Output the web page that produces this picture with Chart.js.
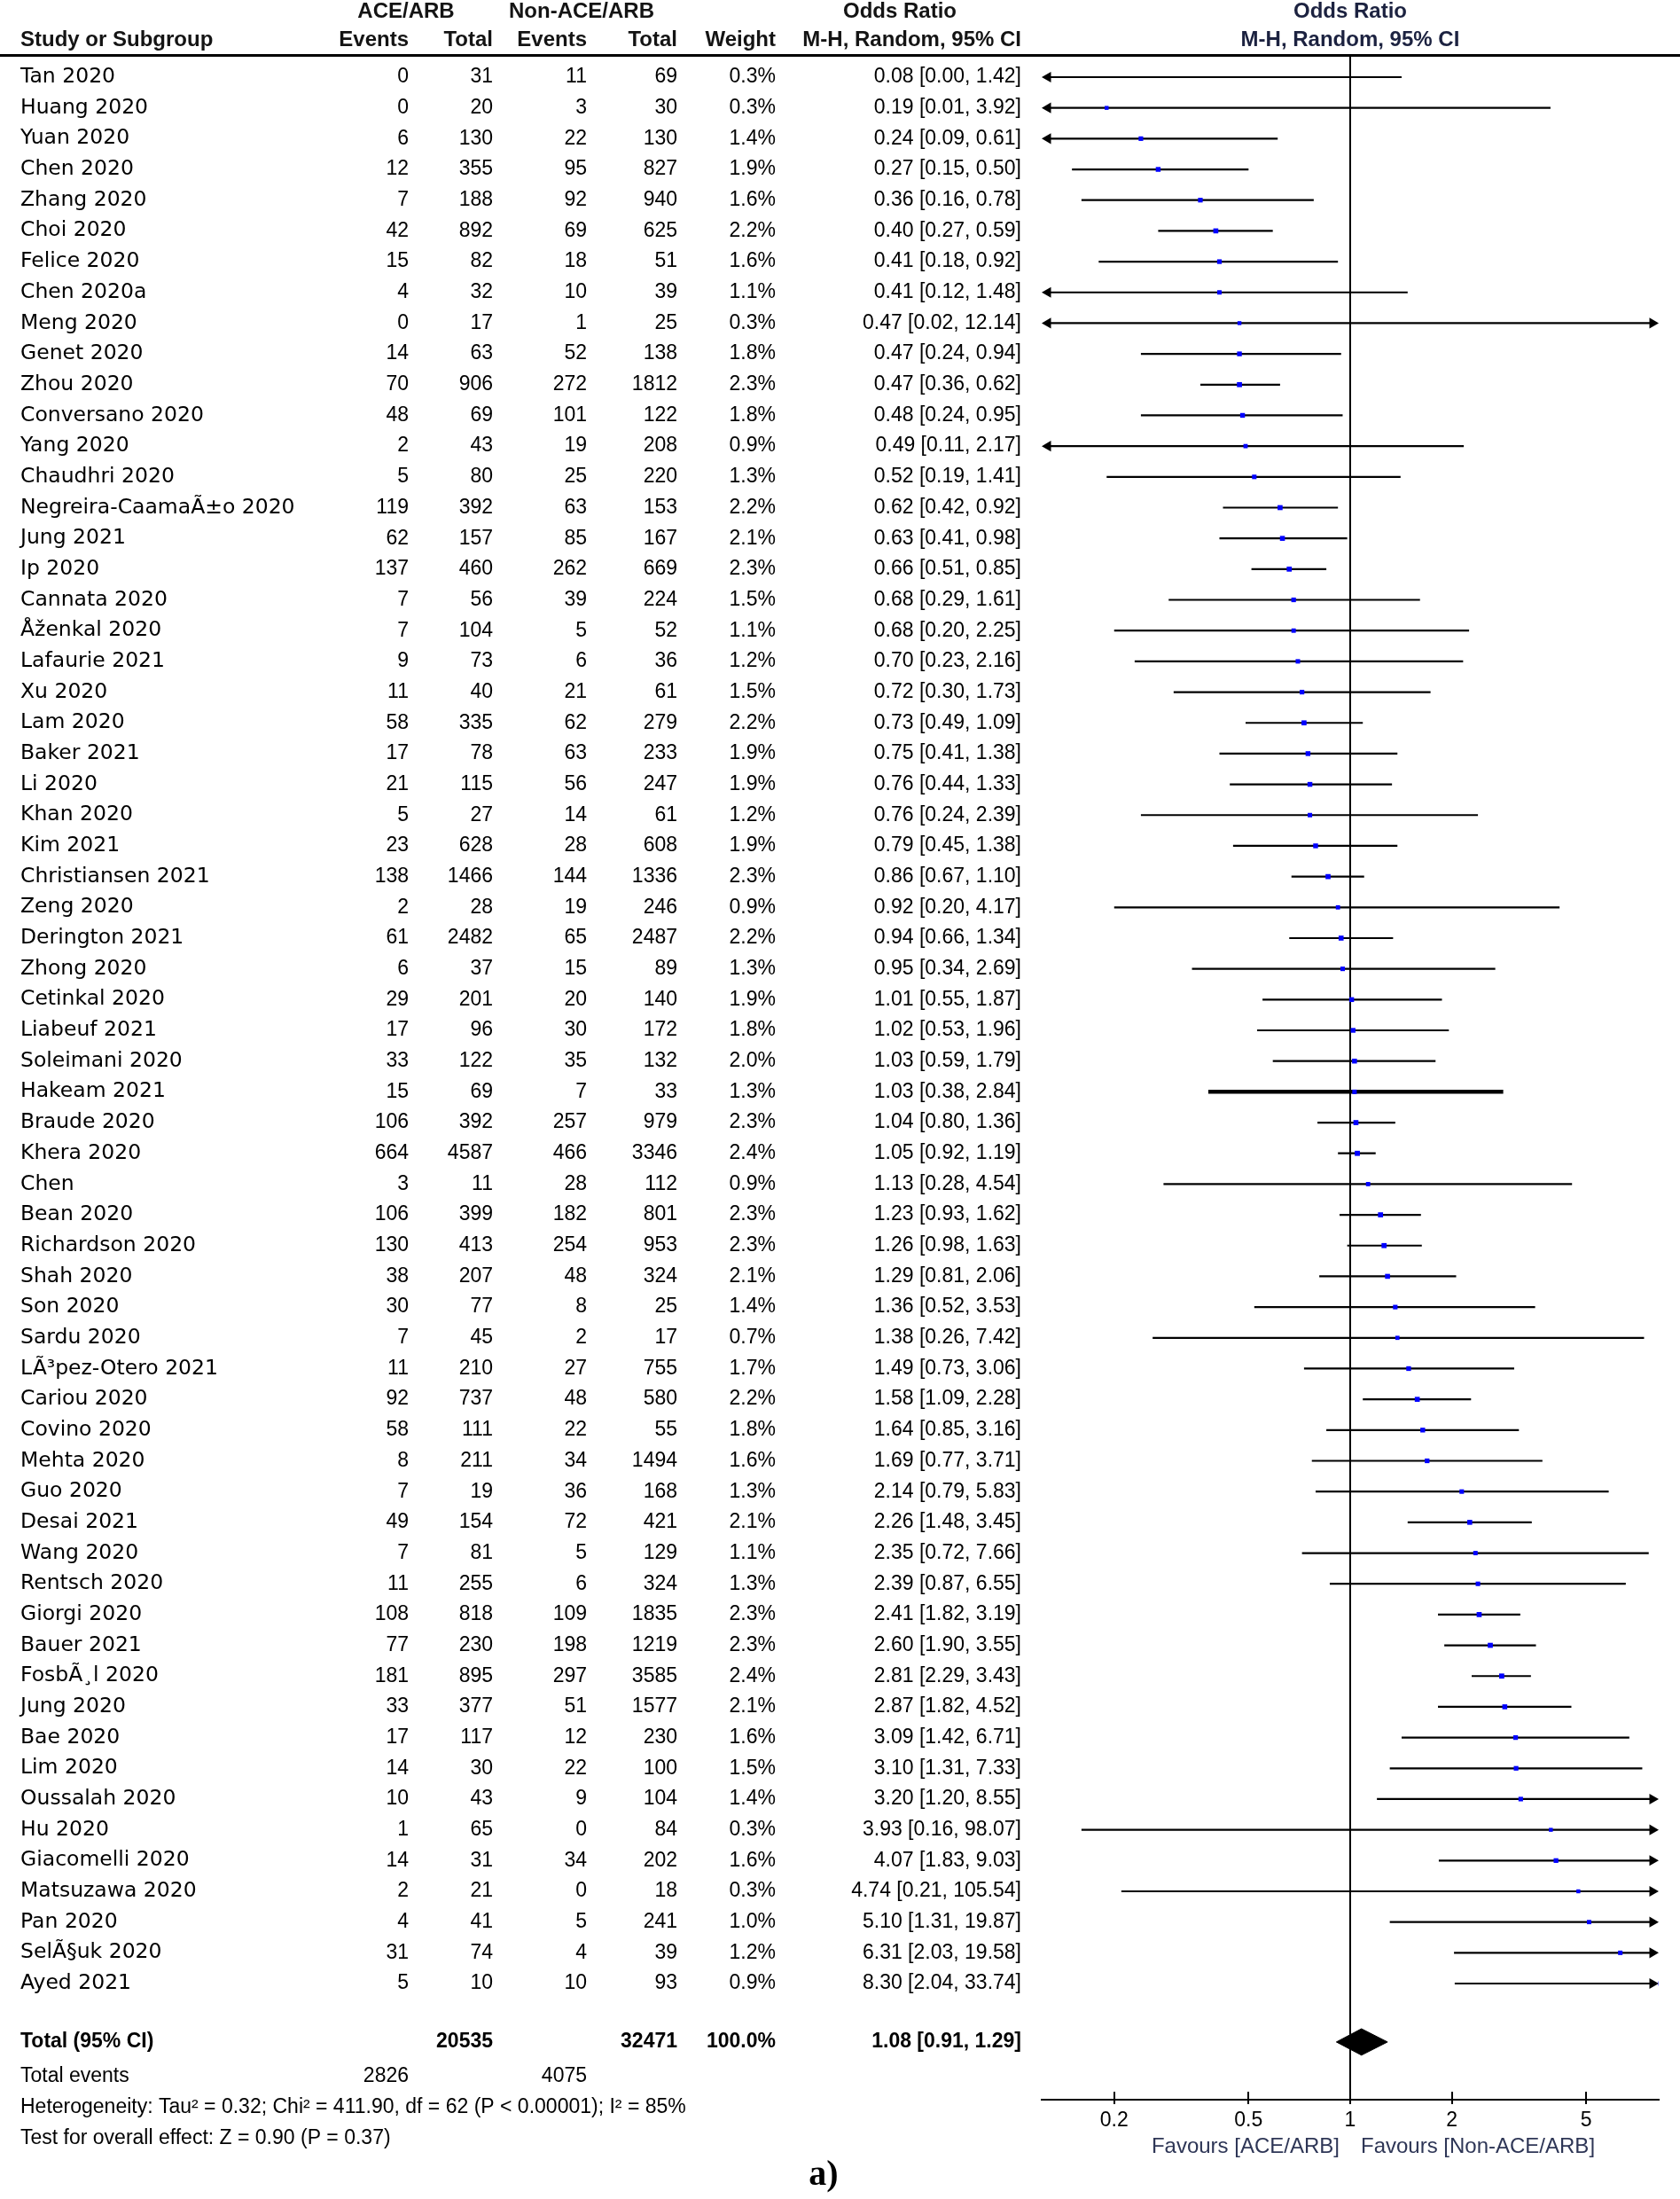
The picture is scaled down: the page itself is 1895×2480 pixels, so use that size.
<!DOCTYPE html>
<html>
<head>
<meta charset="utf-8">
<script src="https://cdn.jsdelivr.net/npm/chart.js@4.4.1/dist/chart.umd.min.js"></script>
<style>
html, body { margin: 0; padding: 0; background: #fff; }
canvas { display: block; }
</style>
</head>
<body>
<canvas id="forest" width="1895" height="2480"></canvas>
<script>
// ---- data ----
const studies = ['Tan 2020','Huang 2020','Yuan 2020','Chen 2020','Zhang 2020','Choi 2020','Felice 2020','Chen 2020a','Meng 2020','Genet 2020',
  'Zhou 2020','Conversano 2020','Yang 2020','Chaudhri 2020','Negreira-CaamaÃ±o 2020','Jung 2021','Ip 2020','Cannata 2020','Åženkal 2020','Lafaurie 2021',
  'Xu 2020','Lam 2020','Baker 2021','Li 2020','Khan 2020','Kim 2021','Christiansen 2021','Zeng 2020','Derington 2021','Zhong 2020',
  'Cetinkal 2020','Liabeuf 2021','Soleimani 2020','Hakeam 2021','Braude 2020','Khera 2020','Chen','Bean 2020','Richardson 2020','Shah 2020',
  'Son 2020','Sardu 2020','LÃ³pez-Otero 2021','Cariou 2020','Covino 2020','Mehta 2020','Guo 2020','Desai 2021','Wang 2020','Rentsch 2020',
  'Giorgi 2020','Bauer 2021','FosbÃ¸l 2020','Jung 2020','Bae 2020','Lim 2020','Oussalah 2020','Hu 2020','Giacomelli 2020','Matsuzawa 2020',
  'Pan 2020','SelÃ§uk 2020','Ayed 2021'];

const eventsAce = [0,0,6,12,7,42,15,4,0,14,70,48,2,5,119,62,137,7,7,9,11,58,17,21,5,23,138,2,61,6,29,17,33,15,106,664,3,106,130,38,30,7,11,92,58,8,7,49,7,11,108,77,181,33,17,14,10,1,14,2,4,31,5];
const totalAce = [31,20,130,355,188,892,82,32,17,63,906,69,43,80,392,157,460,56,104,73,40,335,78,115,27,628,1466,28,2482,37,201,96,122,69,392,4587,11,399,413,207,77,45,210,737,111,211,19,154,81,255,818,230,895,377,117,30,43,65,31,21,41,74,10];
const eventsNon = [11,3,22,95,92,69,18,10,1,52,272,101,19,25,63,85,262,39,5,6,21,62,63,56,14,28,144,19,65,15,20,30,35,7,257,466,28,182,254,48,8,2,27,48,22,34,36,72,5,6,109,198,297,51,12,22,9,0,34,0,5,4,10];
const totalNon = [69,30,130,827,940,625,51,39,25,138,1812,122,208,220,153,167,669,224,52,36,61,279,233,247,61,608,1336,246,2487,89,140,172,132,33,979,3346,112,801,953,324,25,17,755,580,55,1494,168,421,129,324,1835,1219,3585,1577,230,100,104,84,202,18,241,39,93];
const weights = [0.3,0.3,1.4,1.9,1.6,2.2,1.6,1.1,0.3,1.8,2.3,1.8,0.9,1.3,2.2,2.1,2.3,1.5,1.1,1.2,1.5,2.2,1.9,1.9,1.2,1.9,2.3,0.9,2.2,1.3,1.9,1.8,2.0,1.3,2.3,2.4,0.9,2.3,2.3,2.1,1.4,0.7,1.7,2.2,1.8,1.6,1.3,2.1,1.1,1.3,2.3,2.3,2.4,2.1,1.6,1.5,1.4,0.3,1.6,0.3,1.0,1.2,0.9];
const oddsRatio = [0.08,0.19,0.24,0.27,0.36,0.40,0.41,0.41,0.47,0.47,0.47,0.48,0.49,0.52,0.62,0.63,0.66,0.68,0.68,0.70,0.72,0.73,0.75,0.76,0.76,0.79,0.86,0.92,0.94,0.95,1.01,1.02,1.03,1.03,1.04,1.05,1.13,1.23,1.26,1.29,1.36,1.38,1.49,1.58,1.64,1.69,2.14,2.26,2.35,2.39,2.41,2.60,2.81,2.87,3.09,3.10,3.20,3.93,4.07,4.74,5.10,6.31,8.30];
const ciLower = [0.00,0.01,0.09,0.15,0.16,0.27,0.18,0.12,0.02,0.24,0.36,0.24,0.11,0.19,0.42,0.41,0.51,0.29,0.20,0.23,0.30,0.49,0.41,0.44,0.24,0.45,0.67,0.20,0.66,0.34,0.55,0.53,0.59,0.38,0.80,0.92,0.28,0.93,0.98,0.81,0.52,0.26,0.73,1.09,0.85,0.77,0.79,1.48,0.72,0.87,1.82,1.90,2.29,1.82,1.42,1.31,1.20,0.16,1.83,0.21,1.31,2.03,2.04];
const ciUpper = [1.42,3.92,0.61,0.50,0.78,0.59,0.92,1.48,12.14,0.94,0.62,0.95,2.17,1.41,0.92,0.98,0.85,1.61,2.25,2.16,1.73,1.09,1.38,1.33,2.39,1.38,1.10,4.17,1.34,2.69,1.87,1.96,1.79,2.84,1.36,1.19,4.54,1.62,1.63,2.06,3.53,7.42,3.06,2.28,3.16,3.71,5.83,3.45,7.66,6.55,3.19,3.55,3.43,4.52,6.71,7.33,8.55,98.07,9.03,105.54,19.87,19.58,33.74];

const pooled = [1.08, 0.91, 1.29];          // OR, lower, upper
const pooledTotals = [20535, 32471];
const pooledEvents = [2826, 4075];
const heterogeneityText = 'Heterogeneity: Tau² = 0.32; Chi² = 411.90, df = 62 (P < 0.00001); I² = 85%';
const overallText = 'Test for overall effect: Z = 0.90 (P = 0.37)';
const axisTicks = [0.2, 0.5, 1, 2, 5];
const favourLeft = 'Favours [ACE/ARB]';
const favourRight = 'Favours [Non-ACE/ARB]';

// ---- layout ----
const xMin = 0.122, xMax = 8.2;
const yMin = -0.692, yMax = 65.777;
const totalRow = 63.9;
const thickStudy = 'Hakeam 2021';

const nameFont = '23.5px "DejaVu Sans"';
const numFont = '23px "Liberation Sans"';
const boldNum = 'bold 23px "Liberation Sans"';
const headFont = 'bold 24px "Liberation Sans"';
const navy = '#1c2240';
const slate = '#2e3656';

const cols = { ev1: 461, tot1: 556, ev2: 662, tot2: 764, wt: 875, or: 1152 };

// arrow heads sit just inside the axis ends
const arrowR = 7;
const arrowShift = Math.pow(10, arrowR / (696 / Math.log10(xMax / xMin)));

function fmtCI(o, l, u){
    return o.toFixed(2) + ' [' + l.toFixed(2) + ', ' + u.toFixed(2) + ']';
}

/* ===========================
   DATASETS
=========================== */

const ciSets = studies.map((name, i) => {
    const leftArrow = ciLower[i] < xMin;
    const rightArrow = ciUpper[i] > xMax;
    return {
        data: [
            {x: leftArrow ? xMin * arrowShift : ciLower[i], y: i},
            {x: rightArrow ? xMax / arrowShift : ciUpper[i], y: i}
        ],
        borderColor: '#000',
        borderWidth: name === thickStudy ? 4.5 : 2.2,
        pointStyle: 'triangle',
        pointRadius: [leftArrow ? arrowR : 0, rightArrow ? arrowR : 0],
        pointRotation: [-90, 90],
        pointBackgroundColor: '#000',
        pointBorderWidth: 0,
        clip: false,
        order: 2
    };
});

const pointSet = {
    data: oddsRatio.map((v, i) => ({x: v, y: i})),
    showLine: false,
    pointStyle: 'rect',
    pointRadius: weights.map(w => 3 + w * 0.45),
    pointBackgroundColor: '#0000ff',
    pointBorderWidth: 0,
    order: 0
};

const nullLine = {
    data: [{x: 1, y: yMin}, {x: 1, y: yMax}],
    borderColor: '#000',
    borderWidth: 2,
    pointRadius: 0,
    clip: false,
    order: 3
};

const dh = 0.43;
const diamond = {
    data: [
        {x: pooled[1], y: totalRow},
        {x: pooled[0], y: totalRow - dh},
        {x: pooled[2], y: totalRow},
        {x: pooled[0], y: totalRow + dh},
        {x: pooled[1], y: totalRow}
    ],
    borderColor: '#000',
    backgroundColor: '#000',
    borderWidth: 1,
    fill: 'shape',
    pointRadius: 0,
    tension: 0,
    clip: false,
    order: 1
};

/* ===========================
   TABLE TEXT
=========================== */

const tablePlugin = {
    id: 'table',
    beforeDraw(chart){
        const ctx = chart.ctx;
        ctx.save();
        ctx.fillStyle = '#fff';
        ctx.fillRect(0, 0, chart.width, chart.height);
        ctx.restore();
    },
    afterDraw(chart){
        const ctx = chart.ctx;
        const xs = chart.scales.x;
        const ys = chart.scales.y;
        const x1 = xs.getPixelForValue(1);
        const axisY = xs.top;

        ctx.save();
        ctx.textBaseline = 'middle';

        // header
        ctx.font = headFont;
        ctx.fillStyle = '#141414';
        ctx.textAlign = 'center';
        ctx.fillText('ACE/ARB', 458, 13);
        ctx.fillText('Non-ACE/ARB', 656, 13);
        ctx.fillText('Odds Ratio', 1015, 13);
        ctx.textAlign = 'left';
        ctx.fillText('Study or Subgroup', 23, 45);
        ctx.textAlign = 'right';
        ctx.fillText('Events', cols.ev1, 45);
        ctx.fillText('Total', cols.tot1, 45);
        ctx.fillText('Events', cols.ev2, 45);
        ctx.fillText('Total', cols.tot2, 45);
        ctx.fillText('Weight', cols.wt, 45);
        ctx.fillText('M-H, Random, 95% CI', cols.or, 45);
        ctx.fillStyle = navy;
        ctx.textAlign = 'center';
        ctx.fillText('Odds Ratio', x1, 13);
        ctx.fillText('M-H, Random, 95% CI', x1, 45);

        // header rule
        ctx.fillStyle = '#000';
        ctx.fillRect(0, 61, chart.width, 3);

        // study rows
        studies.forEach((name, i) => {
            const y = ys.getPixelForValue(i);
            ctx.fillStyle = '#000';
            ctx.font = nameFont;
            ctx.textAlign = 'left';
            ctx.fillText(name, 23, y);
            ctx.font = numFont;
            ctx.textAlign = 'right';
            ctx.fillText(String(eventsAce[i]), cols.ev1, y);
            ctx.fillText(String(totalAce[i]), cols.tot1, y);
            ctx.fillText(String(eventsNon[i]), cols.ev2, y);
            ctx.fillText(String(totalNon[i]), cols.tot2, y);
            ctx.fillText(weights[i].toFixed(1) + '%', cols.wt, y);
            ctx.fillText(fmtCI(oddsRatio[i], ciLower[i], ciUpper[i]), cols.or, y);
        });

        // total rows
        let y = ys.getPixelForValue(totalRow);
        ctx.font = boldNum;
        ctx.textAlign = 'left';
        ctx.fillText('Total (95% CI)', 23, y);
        ctx.textAlign = 'right';
        ctx.fillText(String(pooledTotals[0]), cols.tot1, y);
        ctx.fillText(String(pooledTotals[1]), cols.tot2, y);
        ctx.fillText('100.0%', cols.wt, y);
        ctx.fillText(fmtCI(pooled[0], pooled[1], pooled[2]), cols.or, y);

        ctx.font = numFont;
        y = ys.getPixelForValue(65.03);
        ctx.textAlign = 'left';
        ctx.fillText('Total events', 23, y);
        ctx.textAlign = 'right';
        ctx.fillText(String(pooledEvents[0]), cols.ev1, y);
        ctx.fillText(String(pooledEvents[1]), cols.ev2, y);
        ctx.textAlign = 'left';
        ctx.fillText(heterogeneityText, 23, ys.getPixelForValue(66.03));
        ctx.fillText(overallText, 23, ys.getPixelForValue(67.03));

        // axis tick marks
        ctx.strokeStyle = '#000';
        ctx.lineWidth = 2;
        axisTicks.forEach(v => {
            const px = Math.round(xs.getPixelForValue(v));
            ctx.beginPath();
            ctx.moveTo(px, axisY - 9);
            ctx.lineTo(px, axisY + 5);
            ctx.stroke();
        });

        // favours labels
        ctx.font = '24px "Liberation Sans"';
        ctx.fillStyle = slate;
        ctx.textAlign = 'right';
        ctx.fillText(favourLeft, x1 - 12, axisY + 53);
        ctx.textAlign = 'left';
        ctx.fillText(favourRight, x1 + 12, axisY + 53);

        // panel label
        ctx.font = 'bold 40px "Liberation Serif"';
        ctx.fillStyle = '#000';
        ctx.textAlign = 'center';
        ctx.fillText('a)', 929, 2454);

        ctx.restore();
    }
};

/* ===========================
   CHART
=========================== */

const chart = new Chart(document.getElementById('forest'), {
    type: 'line',
    data: {
        datasets: [pointSet, diamond, ...ciSets, nullLine]
    },
    options: {
        responsive: false,
        animation: false,
        devicePixelRatio: 1,
        layout: { padding: { left: 1175, right: 24, top: 63, bottom: 0 } },
        plugins: {
            legend: { display: false },
            tooltip: { enabled: false }
        },
        scales: {
            x: {
                type: 'logarithmic',
                min: xMin,
                max: xMax,
                bounds: 'data',
                afterBuildTicks: s => { s.ticks = axisTicks.map(v => ({value: v})); },
                afterFit: s => { s.height = 112; },
                grid: { display: false, drawTicks: false },
                border: { display: true, color: '#000', width: 2 },
                ticks: {
                    color: '#000',
                    font: { family: 'Liberation Sans', size: 23 },
                    padding: 10,
                    autoSkip: false,
                    maxRotation: 0,
                    callback: v => String(v)
                }
            },
            y: {
                type: 'linear',
                min: yMin,
                max: yMax,
                reverse: true,
                display: false
            }
        }
    },
    plugins: [tablePlugin]
});
</script>
</body>
</html>
